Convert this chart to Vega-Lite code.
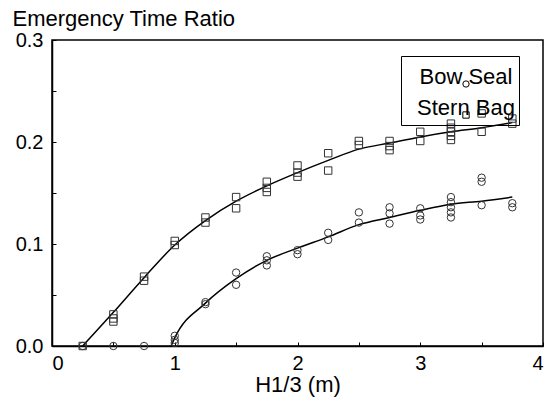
{
  "$schema": "https://vega.github.io/schema/vega-lite/v6.json",
  "width": 491,
  "height": 306,
  "autosize": "none",
  "padding": {"left": 52, "top": 40, "right": 8, "bottom": 54},
  "background": "white",
  "config": {
    "font": "Liberation Sans",
    "view": {"stroke": "black", "strokeWidth": 1.5},
    "axis": {
      "domainColor": "black", "domainWidth": 1.5,
      "tickColor": "black", "tickSize": -4, "tickWidth": 1,
      "grid": false,
      "labelFont": "Liberation Sans", "labelFontSize": 20, "labelColor": "black",
      "titleFont": "Liberation Sans", "titleFontSize": 22, "titleFontWeight": "normal", "titleColor": "black"
    }
  },
  "datasets": {
    "pts": [
      {"h": 0.25, "r": 0, "s": "Stern Bag"},
      {"h": 0.5, "r": 0.031, "s": "Stern Bag"},
      {"h": 0.5, "r": 0.027, "s": "Stern Bag"},
      {"h": 0.5, "r": 0.024, "s": "Stern Bag"},
      {"h": 0.75, "r": 0.068, "s": "Stern Bag"},
      {"h": 0.75, "r": 0.064, "s": "Stern Bag"},
      {"h": 1.0, "r": 0.103, "s": "Stern Bag"},
      {"h": 1.0, "r": 0.099, "s": "Stern Bag"},
      {"h": 1.25, "r": 0.126, "s": "Stern Bag"},
      {"h": 1.25, "r": 0.121, "s": "Stern Bag"},
      {"h": 1.5, "r": 0.146, "s": "Stern Bag"},
      {"h": 1.5, "r": 0.135, "s": "Stern Bag"},
      {"h": 1.75, "r": 0.161, "s": "Stern Bag"},
      {"h": 1.75, "r": 0.155, "s": "Stern Bag"},
      {"h": 1.75, "r": 0.151, "s": "Stern Bag"},
      {"h": 2.0, "r": 0.177, "s": "Stern Bag"},
      {"h": 2.0, "r": 0.170, "s": "Stern Bag"},
      {"h": 2.0, "r": 0.166, "s": "Stern Bag"},
      {"h": 2.25, "r": 0.189, "s": "Stern Bag"},
      {"h": 2.25, "r": 0.172, "s": "Stern Bag"},
      {"h": 2.5, "r": 0.201, "s": "Stern Bag"},
      {"h": 2.5, "r": 0.197, "s": "Stern Bag"},
      {"h": 2.75, "r": 0.201, "s": "Stern Bag"},
      {"h": 2.75, "r": 0.196, "s": "Stern Bag"},
      {"h": 2.75, "r": 0.192, "s": "Stern Bag"},
      {"h": 3.0, "r": 0.210, "s": "Stern Bag"},
      {"h": 3.0, "r": 0.201, "s": "Stern Bag"},
      {"h": 3.25, "r": 0.218, "s": "Stern Bag"},
      {"h": 3.25, "r": 0.214, "s": "Stern Bag"},
      {"h": 3.25, "r": 0.210, "s": "Stern Bag"},
      {"h": 3.25, "r": 0.206, "s": "Stern Bag"},
      {"h": 3.25, "r": 0.202, "s": "Stern Bag"},
      {"h": 3.5, "r": 0.228, "s": "Stern Bag"},
      {"h": 3.5, "r": 0.210, "s": "Stern Bag"},
      {"h": 3.75, "r": 0.223, "s": "Stern Bag"},
      {"h": 3.75, "r": 0.218, "s": "Stern Bag"},
      {"h": 0.25, "r": 0, "s": "Bow Seal"},
      {"h": 0.5, "r": 0, "s": "Bow Seal"},
      {"h": 0.75, "r": 0, "s": "Bow Seal"},
      {"h": 1.0, "r": 0.010, "s": "Bow Seal"},
      {"h": 1.0, "r": 0.006, "s": "Bow Seal"},
      {"h": 1.0, "r": 0.003, "s": "Bow Seal"},
      {"h": 1.25, "r": 0.043, "s": "Bow Seal"},
      {"h": 1.25, "r": 0.041, "s": "Bow Seal"},
      {"h": 1.5, "r": 0.072, "s": "Bow Seal"},
      {"h": 1.5, "r": 0.060, "s": "Bow Seal"},
      {"h": 1.75, "r": 0.088, "s": "Bow Seal"},
      {"h": 1.75, "r": 0.084, "s": "Bow Seal"},
      {"h": 1.75, "r": 0.079, "s": "Bow Seal"},
      {"h": 2.0, "r": 0.094, "s": "Bow Seal"},
      {"h": 2.0, "r": 0.090, "s": "Bow Seal"},
      {"h": 2.25, "r": 0.111, "s": "Bow Seal"},
      {"h": 2.25, "r": 0.104, "s": "Bow Seal"},
      {"h": 2.5, "r": 0.131, "s": "Bow Seal"},
      {"h": 2.5, "r": 0.121, "s": "Bow Seal"},
      {"h": 2.75, "r": 0.136, "s": "Bow Seal"},
      {"h": 2.75, "r": 0.130, "s": "Bow Seal"},
      {"h": 2.75, "r": 0.120, "s": "Bow Seal"},
      {"h": 3.0, "r": 0.135, "s": "Bow Seal"},
      {"h": 3.0, "r": 0.128, "s": "Bow Seal"},
      {"h": 3.0, "r": 0.124, "s": "Bow Seal"},
      {"h": 3.25, "r": 0.146, "s": "Bow Seal"},
      {"h": 3.25, "r": 0.141, "s": "Bow Seal"},
      {"h": 3.25, "r": 0.136, "s": "Bow Seal"},
      {"h": 3.25, "r": 0.131, "s": "Bow Seal"},
      {"h": 3.25, "r": 0.126, "s": "Bow Seal"},
      {"h": 3.5, "r": 0.165, "s": "Bow Seal"},
      {"h": 3.5, "r": 0.161, "s": "Bow Seal"},
      {"h": 3.5, "r": 0.138, "s": "Bow Seal"},
      {"h": 3.75, "r": 0.140, "s": "Bow Seal"},
      {"h": 3.75, "r": 0.136, "s": "Bow Seal"}
    ],
    "fit": [
      {"h": 0.25, "r": 0, "s": "Stern Bag"},
      {"h": 0.5, "r": 0.033, "s": "Stern Bag"},
      {"h": 0.75, "r": 0.067, "s": "Stern Bag"},
      {"h": 1.0, "r": 0.099, "s": "Stern Bag"},
      {"h": 1.25, "r": 0.123, "s": "Stern Bag"},
      {"h": 1.5, "r": 0.142, "s": "Stern Bag"},
      {"h": 1.75, "r": 0.157, "s": "Stern Bag"},
      {"h": 2.0, "r": 0.170, "s": "Stern Bag"},
      {"h": 2.25, "r": 0.182, "s": "Stern Bag"},
      {"h": 2.5, "r": 0.193, "s": "Stern Bag"},
      {"h": 2.75, "r": 0.199, "s": "Stern Bag"},
      {"h": 3.0, "r": 0.205, "s": "Stern Bag"},
      {"h": 3.25, "r": 0.210, "s": "Stern Bag"},
      {"h": 3.5, "r": 0.214, "s": "Stern Bag"},
      {"h": 3.75, "r": 0.219, "s": "Stern Bag"},
      {"h": 0.97, "r": 0, "s": "Bow Seal"},
      {"h": 1.0, "r": 0.008, "s": "Bow Seal"},
      {"h": 1.25, "r": 0.042, "s": "Bow Seal"},
      {"h": 1.5, "r": 0.066, "s": "Bow Seal"},
      {"h": 1.75, "r": 0.084, "s": "Bow Seal"},
      {"h": 2.0, "r": 0.096, "s": "Bow Seal"},
      {"h": 2.25, "r": 0.107, "s": "Bow Seal"},
      {"h": 2.5, "r": 0.119, "s": "Bow Seal"},
      {"h": 2.75, "r": 0.126, "s": "Bow Seal"},
      {"h": 3.0, "r": 0.133, "s": "Bow Seal"},
      {"h": 3.25, "r": 0.139, "s": "Bow Seal"},
      {"h": 3.5, "r": 0.142, "s": "Bow Seal"},
      {"h": 3.75, "r": 0.146, "s": "Bow Seal"}
    ]
  },
  "layer": [
    {
      "data": {"name": "fit"},
      "mark": {"type": "line", "color": "black", "strokeWidth": 1.5, "interpolate": "monotone"},
      "encoding": {
        "x": {"field": "h", "type": "quantitative"},
        "y": {"field": "r", "type": "quantitative"},
        "detail": {"field": "s"}
      }
    },
    {
      "data": {"name": "pts"},
      "mark": {"type": "point", "filled": false, "strokeWidth": 1, "opacity": 1, "size": 55, "color": "#333333"},
      "encoding": {
        "x": {
          "field": "h", "type": "quantitative",
          "scale": {"domain": [0, 4], "nice": false, "zero": false},
          "axis": {
            "title": "H1/3 (m)",
            "values": [0, 0.5, 1, 1.5, 2, 2.5, 3, 3.5, 4],
            "labelExpr": "datum.value % 1 == 0 ? format(datum.value, 'd') : ''",
            "labelPadding": 11,
            "titlePadding": 1
          }
        },
        "y": {
          "field": "r", "type": "quantitative",
          "scale": {"domain": [0, 0.3], "nice": false},
          "axis": {
            "title": "Emergency Time Ratio",
            "values": [0, 0.05, 0.1, 0.15, 0.2, 0.25, 0.3],
            "labelExpr": "round(datum.value * 100) % 10 == 0 ? format(datum.value, '.1f') : ''",
            "labelPadding": 13,
            "titleAngle": 0,
            "titleAlign": "left",
            "titleBaseline": "alphabetic",
            "titleX": -40,
            "titleY": -15
          }
        },
        "shape": {
          "field": "s", "type": "nominal",
          "scale": {"domain": ["Bow Seal", "Stern Bag"], "range": ["circle", "square"]},
          "legend": {
            "title": " ",
            "titleFontSize": 10,
            "titlePadding": 3,
            "orient": "none",
            "legendX": 349,
            "legendY": 16,
            "strokeColor": "black",
            "padding": 4,
            "labelFontSize": 22,
            "labelColor": "black",
            "labelFont": "Liberation Sans",
            "labelAlign": "center",
            "labelBaseline": "alphabetic",
            "labelOffset": -11,
            "symbolOffset": 50,
            "symbolSize": 40,
            "symbolStrokeColor": "black",
            "symbolFillColor": "white",
            "symbolStrokeWidth": 1,
            "rowPadding": 7
          }
        }
      }
    }
  ]
}
